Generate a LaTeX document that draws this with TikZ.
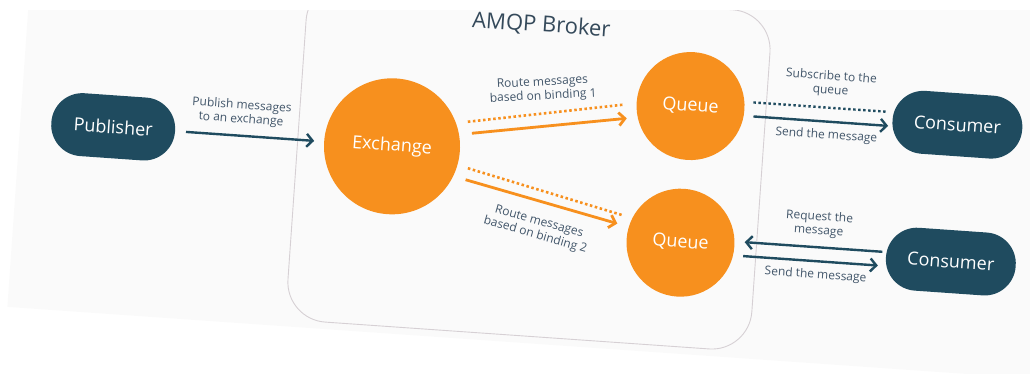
\documentclass[tikz,border=0pt]{standalone}
\usepackage{fontspec}
\setmainfont{Open Sans}
\usetikzlibrary{arrows.meta}
\definecolor{brokerteal}{HTML}{1F4B5F}
\definecolor{brokerorange}{HTML}{F7901E}
\definecolor{labelgray}{HTML}{42566A}
\definecolor{titlegray}{HTML}{34495A}
\definecolor{slabgray}{HTML}{FAFAFA}
\definecolor{framegray}{HTML}{D6D0D4}

\begin{document}
\begin{tikzpicture}[x=1pt,y=1pt]
    \tikzset{client/.style={fill=brokerteal, text=white, rounded corners=31pt, minimum height=63pt, inner sep=0pt, outer sep=0pt, font=\fontsize{18}{20}\selectfont},
             store/.style={circle, fill=brokerorange, text=white, inner sep=0pt, outer sep=0pt, font=\fontsize{18}{20}\selectfont},
             lbl/.style={text=labelgray, align=center, inner sep=0pt, font=\fontsize{12}{14}\selectfont},
             flow/.style={line width=2.4pt, brokerteal, -{Straight Barb[length=6pt,width=13pt]}},
             hint/.style={line width=2.4pt, brokerteal, dash pattern=on 2.4pt off 2.6pt},
             route/.style={line width=2.8pt, brokerorange, -{Straight Barb[length=6pt,width=13pt]}},
             bind/.style={line width=2.6pt, brokerorange, dash pattern=on 2.5pt off 2.6pt}}
    \useasboundingbox (0,0) rectangle (1030,373);
    \begin{scope}
    \clip (0,0) rectangle (1030,362);
    \begin{scope}[rotate around={-4:(515,186.5)}, transform shape]
        % background and broker frame
        \fill[slabgray] (17,31) rectangle (1060,420);
        \draw[framegray, line width=0.9pt, rounded corners=40pt] (295,38) rectangle (760,378);
        \node[text=titlegray, font=\fontsize{22}{24}\selectfont] (title) at (530,349) {AMQP Broker};

        % clients and broker parts
        \node[client, minimum width=124pt] (publisher) at (110,218) {Publisher};
        \node[store, minimum size=136pt] (exchange) at (389.5,218) {Exchange};
        \node[store, minimum size=108pt] (queue1) at (684.5,279) {Queue};
        \node[store, minimum size=108pt] (queue2) at (684,142) {Queue};
        \node[client, minimum width=130pt] (consumer1) at (952,279) {Consumer};
        \node[client, minimum width=130pt] (consumer2) at (955,142) {Consumer};

        % publishing
        \draw[flow, shorten <=11pt, shorten >=10pt] (publisher) -- (exchange);
        \node[lbl] (publishlbl) at (237,241) {Publish messages\\to an exchange};

        % routing
        \draw[bind, shorten <=12pt, shorten >=13pt] (exchange.24) -- (queue1.181);
        \draw[route, shorten <=13pt, shorten >=11pt] (exchange.14) -- (queue1.196);
        \node[lbl, rotate=7] (route1lbl) at (536,285) {Route messages\\based on binding 1};
        \draw[bind, shorten <=11pt, shorten >=11pt] (exchange.-12) -- (queue2.157);
        \draw[route, shorten <=13pt, shorten >=12pt] (exchange.-22) -- (queue2.167);
        \node[lbl, rotate=-12] (route2lbl) at (540,146) {Route messages\\based on binding 2};

        % consuming
        \draw[hint, shorten <=8.5pt, shorten >=5pt] ([yshift=8pt]queue1.east) -- ([yshift=8pt]consumer1.west);
        \draw[flow, shorten <=9.5pt, shorten >=4pt] ([yshift=-6pt]queue1.east) -- ([yshift=-6pt]consumer1.west);
        \node[lbl] (subscribelbl) at (823,311) {Subscribe to the\\queue};
        \node[lbl] (send1lbl) at (822,259) {Send the message};
        \draw[flow, shorten <=4pt, shorten >=10pt] ([yshift=5pt]consumer2.west) -- ([yshift=5pt]queue2.east);
        \draw[flow, shorten <=9.5pt, shorten >=7.5pt] ([yshift=-9pt]queue2.east) -- ([yshift=-9pt]consumer2.west);
        \node[lbl] (requestlbl) at (821,170) {Request the\\message};
        \node[lbl] (send2lbl) at (821,119) {Send the message};
    \end{scope}
    \end{scope}
\end{tikzpicture}
\end{document}
